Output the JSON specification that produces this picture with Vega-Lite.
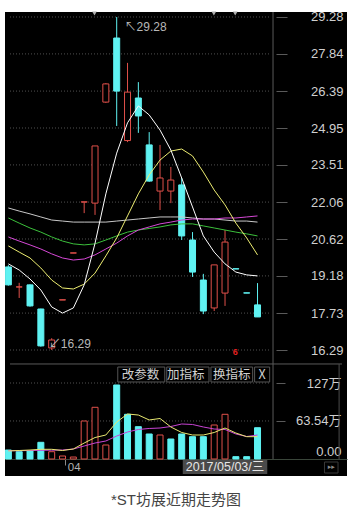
{
"$schema": "https://vega.github.io/schema/vega-lite/v6.json",
"width": 342, "height": 464,
"autosize": {"type": "none"},
"padding": {"left": 5, "top": 12, "right": 5, "bottom": 37},
"background": "#ffffff",
"config": {"view": {"fill": "#000000", "stroke": null}, "axis": {"grid": false, "labelFont": "Liberation Sans, Noto Sans CJK SC"}, "text": {"font": "Liberation Sans, Noto Sans CJK SC"}},
"title": {"text": "*ST坊展近期走势图", "orient": "bottom", "anchor": "middle", "baseline": "top", "offset": 17, "fontSize": 15, "fontWeight": "normal", "font": "Liberation Sans, Noto Sans CJK SC", "color": "#444444"},
"datasets": {
"candles": [
{"i":1,"o":19.53,"c":18.83,"h":19.60,"l":18.80,"dir":"down","vdir":"down","vol":15.0},
{"i":2,"o":18.75,"c":18.75,"h":18.91,"l":18.32,"dir":"up","vdir":"down","vol":12.2},
{"i":3,"o":18.83,"c":18.01,"h":18.85,"l":17.98,"dir":"down","vdir":"down","vol":13.4},
{"i":4,"o":17.89,"c":16.45,"h":17.90,"l":16.42,"dir":"down","vdir":"down","vol":27.9},
{"i":5,"o":16.37,"c":16.68,"h":16.75,"l":16.29,"dir":"up","vdir":"up","vol":12.2},
{"i":6,"o":18.24,"c":18.25,"h":18.25,"l":18.24,"dir":"up","vdir":"up","vol":5.0},
{"i":7,"o":20.07,"c":20.08,"h":20.08,"l":20.07,"dir":"up","vdir":"up","vol":3.3},
{"i":8,"o":22.06,"c":22.07,"h":22.07,"l":21.63,"dir":"up","vdir":"up","vol":63.5},
{"i":9,"o":22.02,"c":24.25,"h":24.25,"l":21.56,"dir":"up","vdir":"up","vol":86.4},
{"i":10,"o":25.96,"c":26.67,"h":26.70,"l":25.93,"dir":"up","vdir":"up","vol":23.4},
{"i":11,"o":28.46,"c":26.39,"h":29.28,"l":25.03,"dir":"down","vdir":"down","vol":123.7},
{"i":12,"o":24.46,"c":26.35,"h":27.49,"l":24.40,"dir":"up","vdir":"down","vol":74.7},
{"i":13,"o":26.12,"c":25.42,"h":26.74,"l":24.76,"dir":"down","vdir":"down","vol":54.0},
{"i":14,"o":24.29,"c":22.88,"h":24.79,"l":22.85,"dir":"down","vdir":"down","vol":41.8},
{"i":15,"o":22.49,"c":23.00,"h":24.29,"l":21.75,"dir":"up","vdir":"up","vol":40.1},
{"i":16,"o":22.49,"c":22.92,"h":23.43,"l":22.02,"dir":"up","vdir":"down","vol":33.4},
{"i":17,"o":22.73,"c":20.74,"h":23.00,"l":20.58,"dir":"down","vdir":"down","vol":41.8},
{"i":18,"o":20.58,"c":19.33,"h":20.89,"l":19.14,"dir":"down","vdir":"down","vol":37.3},
{"i":19,"o":19.02,"c":17.81,"h":19.26,"l":17.69,"dir":"down","vdir":"down","vol":37.3},
{"i":20,"o":17.93,"c":19.61,"h":19.61,"l":17.81,"dir":"up","vdir":"up","vol":56.8},
{"i":21,"o":18.51,"c":20.50,"h":20.97,"l":18.01,"dir":"up","vdir":"up","vol":74.7},
{"i":22,"o":19.46,"c":19.45,"h":19.46,"l":19.45,"dir":"down","vdir":"down","vol":3.9},
{"i":23,"o":18.52,"c":18.51,"h":18.52,"l":18.51,"dir":"down","vdir":"down","vol":3.9},
{"i":24,"o":18.05,"c":17.58,"h":18.90,"l":17.58,"dir":"down","vdir":"down","vol":52.3}
],
"ma": [
{"i":1,"ma5":19.65,"ma10":20.35,"ma20":20.70,"ma30":21.44,"ma60":21.83,"vma5":13.4,"vma10":13.9},
{"i":2,"ma5":19.41,"ma10":20.11,"ma20":20.54,"ma30":21.24,"ma60":21.71,"vma5":14.2,"vma10":13.9},
{"i":3,"ma5":19.06,"ma10":19.88,"ma20":20.39,"ma30":21.05,"ma60":21.60,"vma5":15.0,"vma10":14.2},
{"i":4,"ma5":18.63,"ma10":19.49,"ma20":20.23,"ma30":20.89,"ma60":21.48,"vma5":16.2,"vma10":14.5},
{"i":5,"ma5":17.97,"ma10":19.02,"ma20":20.04,"ma30":20.70,"ma60":21.36,"vma5":16.2,"vma10":14.7},
{"i":6,"ma5":17.73,"ma10":18.71,"ma20":19.88,"ma30":20.54,"ma60":21.32,"vma5":14.2,"vma10":15.0},
{"i":7,"ma5":17.93,"ma10":18.67,"ma20":19.80,"ma30":20.43,"ma60":21.28,"vma5":16.7,"vma10":16.7},
{"i":8,"ma5":18.83,"ma10":18.86,"ma20":19.84,"ma30":20.39,"ma60":21.28,"vma5":26.7,"vma10":21.7},
{"i":9,"ma5":20.45,"ma10":19.29,"ma20":20.00,"ma30":20.43,"ma60":21.28,"vma5":35.9,"vma10":26.7},
{"i":10,"ma5":22.38,"ma10":19.96,"ma20":20.23,"ma30":20.58,"ma60":21.28,"vma5":40.1,"vma10":30.1},
{"i":11,"ma5":23.97,"ma10":20.66,"ma20":20.46,"ma30":20.74,"ma60":21.32,"vma5":61.8,"vma10":38.4},
{"i":12,"ma5":25.15,"ma10":21.52,"ma20":20.74,"ma30":20.89,"ma60":21.36,"vma5":75.2,"vma10":45.1},
{"i":13,"ma5":25.81,"ma10":22.38,"ma20":20.97,"ma30":20.97,"ma60":21.40,"vma5":73.5,"vma10":49.3},
{"i":14,"ma5":25.46,"ma10":23.12,"ma20":21.09,"ma30":21.03,"ma60":21.44,"vma5":65.2,"vma10":51.0},
{"i":15,"ma5":24.87,"ma10":23.70,"ma20":21.21,"ma30":21.09,"ma60":21.48,"vma5":67.7,"vma10":51.8},
{"i":16,"ma5":24.09,"ma10":24.05,"ma20":21.28,"ma30":21.17,"ma60":21.48,"vma5":53.5,"vma10":54.3},
{"i":17,"ma5":23.00,"ma10":24.13,"ma20":21.36,"ma30":21.21,"ma60":21.48,"vma5":44.3,"vma10":58.5},
{"i":18,"ma5":21.87,"ma10":23.86,"ma20":21.40,"ma30":21.21,"ma60":21.44,"vma5":40.1,"vma10":57.7},
{"i":19,"ma5":20.74,"ma10":23.23,"ma20":21.40,"ma30":21.13,"ma60":21.40,"vma5":40.1,"vma10":53.5},
{"i":20,"ma5":20.11,"ma10":22.53,"ma20":21.40,"ma30":21.05,"ma60":21.40,"vma5":44.3,"vma10":50.1},
{"i":21,"ma5":19.65,"ma10":21.95,"ma20":21.44,"ma30":20.97,"ma60":21.36,"vma5":51.8,"vma10":49.3},
{"i":22,"ma5":19.33,"ma10":21.24,"ma20":21.44,"ma30":20.89,"ma60":21.32,"vma5":43.4,"vma10":41.8},
{"i":23,"ma5":19.22,"ma10":20.66,"ma20":21.48,"ma30":20.82,"ma60":21.32,"vma5":37.3,"vma10":37.6},
{"i":24,"ma5":19.18,"ma10":20.00,"ma20":21.52,"ma30":20.74,"ma60":21.28,"vma5":37.3,"vma10":40.1}
],
"pgrid": [{"p":29.28},{"p":27.84},{"p":26.39},{"p":24.95},{"p":23.51},{"p":22.06},{"p":20.62},{"p":19.18},{"p":17.73},{"p":16.29}],
"vgrid": [{"v":127},{"v":63.54}],
"one": [{"k":1}]
},
"resolve": {"scale": {"y": "independent", "color": "independent", "stroke": "independent", "fill": "independent"}, "axis": {"x": "independent", "y": "independent"}},
"layer": [
{"data": {"name": "pgrid"}, "mark": {"type": "rule", "color": "#505050", "strokeDash": [1, 2], "strokeWidth": 1},
 "encoding": {
  "x": {"datum": 1.1523, "type": "quantitative", "scale": {"domain": [1.1523, 31.797], "nice": false, "zero": false}, "axis": null},
  "x2": {"datum": 25.17},
  "y": {"field": "p", "type": "quantitative", "scale": {"domain": [11.375, 29.475], "nice": false, "zero": false},
   "axis": {"orient": "right", "offset": -71, "values": [29.28, 27.84, 26.39, 24.95, 23.51, 22.06, 20.62, 19.18, 17.73, 16.29], "format": ".2f", "title": null, "domain": false, "ticks": true, "tickSize": 11, "tickColor": "#5a5a5a", "labelAlign": "right", "labelBaseline": "middle", "labelPadding": 56, "labelColor": "#cfcfcf", "labelFontSize": 13, "labelOverlap": false, "labelFlush": false, "grid": false}}
 }},
{"data": {"name": "candles"}, "mark": {"type": "rule", "strokeWidth": 1, "clip": true},
 "encoding": {
  "x": {"field": "i", "type": "quantitative", "scale": {"domain": [1.1523, 31.797], "nice": false, "zero": false}, "axis": null},
  "y": {"field": "l", "type": "quantitative", "scale": {"domain": [11.375, 29.475], "nice": false, "zero": false}, "axis": null},
  "y2": {"field": "h"},
  "color": {"field": "dir", "type": "nominal", "scale": {"domain": ["up", "down"], "range": ["#e0504a", "#5ff2f2"]}, "legend": null}
 }},
{"data": {"name": "candles"}, "mark": {"type": "bar", "orient": "vertical", "size": 6, "strokeWidth": 1, "clip": true},
 "encoding": {
  "x": {"field": "i", "type": "quantitative", "scale": {"domain": [1.1523, 31.797], "nice": false, "zero": false}, "axis": null},
  "y": {"field": "o", "type": "quantitative", "scale": {"domain": [11.375, 29.475], "nice": false, "zero": false}, "axis": null},
  "y2": {"field": "c"},
  "stroke": {"field": "dir", "type": "nominal", "scale": {"domain": ["up", "down"], "range": ["#e0504a", "#5ff2f2"]}, "legend": null},
  "fill": {"field": "dir", "type": "nominal", "scale": {"domain": ["up", "down"], "range": ["#000000", "#5ff2f2"]}, "legend": null}
 }},
{"data": {"name": "ma"}, "transform": [{"fold": ["ma60", "ma30", "ma20", "ma10", "ma5"], "as": ["m", "v"]}],
 "mark": {"type": "line", "strokeWidth": 1, "clip": true},
 "encoding": {
  "x": {"field": "i", "type": "quantitative", "scale": {"domain": [1.1523, 31.797], "nice": false, "zero": false}, "axis": null},
  "y": {"field": "v", "type": "quantitative", "scale": {"domain": [11.375, 29.475], "nice": false, "zero": false}, "axis": null},
  "color": {"field": "m", "type": "nominal", "scale": {"domain": ["ma60", "ma30", "ma20", "ma10", "ma5"], "range": ["#c8c8c8", "#3cc03c", "#d648d6", "#eeee72", "#ffffff"]}, "legend": null},
  "order": {"field": "i"}
 }},
{"data": {"values": [{"i": 11.73, "p": 28.89, "t": "↖29.28"}, {"i": 4.74, "p": 16.52, "t": "↙16.29"}]},
 "mark": {"type": "text", "align": "left", "baseline": "middle", "fontSize": 12, "color": "#b8b8b8"},
 "encoding": {
  "x": {"field": "i", "type": "quantitative", "scale": {"domain": [1.1523, 31.797], "nice": false, "zero": false}, "axis": null},
  "y": {"field": "p", "type": "quantitative", "scale": {"domain": [11.375, 29.475], "nice": false, "zero": false}, "axis": null},
  "text": {"field": "t"}
 }},
{"data": {"values": [{"i": 21.94, "p": 16.2, "t": "6"}]},
 "mark": {"type": "text", "align": "center", "baseline": "middle", "fontSize": 9, "fontWeight": "bold", "color": "#e02020"},
 "encoding": {
  "x": {"field": "i", "type": "quantitative", "scale": {"domain": [1.1523, 31.797], "nice": false, "zero": false}, "axis": null},
  "y": {"field": "p", "type": "quantitative", "scale": {"domain": [11.375, 29.475], "nice": false, "zero": false}, "axis": null},
  "text": {"field": "t"}
 }},
{"data": {"values": [{"i": 8.95, "p": 29.42}, {"i": 19.97, "p": 29.42}, {"i": 21.94, "p": 29.42}]},
 "mark": {"type": "point", "shape": "triangle-down", "size": 22, "filled": true, "color": "#b0b0b0", "opacity": 1},
 "encoding": {
  "x": {"field": "i", "type": "quantitative", "scale": {"domain": [1.1523, 31.797], "nice": false, "zero": false}, "axis": null},
  "y": {"field": "p", "type": "quantitative", "scale": {"domain": [11.375, 29.475], "nice": false, "zero": false}, "axis": null}
 }},
{"data": {"name": "vgrid"}, "mark": {"type": "rule", "color": "#505050", "strokeDash": [1, 2], "strokeWidth": 1},
 "encoding": {
  "x": {"datum": 1.1523, "type": "quantitative", "scale": {"domain": [1.1523, 31.797], "nice": false, "zero": false}, "axis": null},
  "x2": {"datum": 25.17},
  "y": {"field": "v", "type": "quantitative", "scale": {"domain": [-28.41, 747], "nice": false, "zero": false},
   "axis": {"orient": "right", "offset": -71, "values": [127, 63.54, 0], "labelExpr": "datum.value == 0 ? '0.00' : (datum.value == 127 ? '127万' : '63.54万')", "title": null, "domain": false, "ticks": true, "tickSize": 9, "tickColor": "#5a5a5a", "tickOpacity": {"condition": {"test": "datum.value == 0", "value": 0}, "value": 1}, "labelAlign": "right", "labelBaseline": {"condition": {"test": "datum.value == 0", "value": "bottom"}, "value": "middle"}, "labelPadding": 56, "labelColor": "#cfcfcf", "labelFontSize": 13, "labelOverlap": false, "labelFlush": false, "grid": false}}
 }},
{"data": {"name": "candles"}, "mark": {"type": "bar", "orient": "vertical", "size": 6, "strokeWidth": 1, "clip": true},
 "encoding": {
  "x": {"field": "i", "type": "quantitative", "scale": {"domain": [1.1523, 31.797], "nice": false, "zero": false},
   "axis": {"orient": "bottom", "offset": -17, "values": [6.26], "labelExpr": "'04'", "title": null, "domain": true, "domainColor": "#3a463a", "ticks": true, "tickSize": 6, "tickColor": "#8a8a8a", "labelAlign": "left", "labelBaseline": "middle", "labelPadding": 2, "labelOffset": 2, "labelColor": "#b0b0b0", "labelFontSize": 11.5, "labelFlush": false, "grid": false}},
  "y": {"field": "vol", "type": "quantitative", "scale": {"domain": [-28.41, 747], "nice": false, "zero": false}, "axis": null},
  "y2": {"datum": 0},
  "stroke": {"field": "vdir", "type": "nominal", "scale": {"domain": ["up", "down"], "range": ["#e0504a", "#5ff2f2"]}, "legend": null},
  "fill": {"field": "vdir", "type": "nominal", "scale": {"domain": ["up", "down"], "range": ["#000000", "#5ff2f2"]}, "legend": null}
 }},
{"data": {"name": "ma"}, "transform": [{"fold": ["vma10", "vma5"], "as": ["m", "v"]}],
 "mark": {"type": "line", "strokeWidth": 1, "clip": true},
 "encoding": {
  "x": {"field": "i", "type": "quantitative", "scale": {"domain": [1.1523, 31.797], "nice": false, "zero": false}, "axis": null},
  "y": {"field": "v", "type": "quantitative", "scale": {"domain": [-28.41, 747], "nice": false, "zero": false}, "axis": null},
  "color": {"field": "m", "type": "nominal", "scale": {"domain": ["vma10", "vma5"], "range": ["#c844d4", "#e8e870"]}, "legend": null},
  "order": {"field": "i"}
 }},
{"data": {"name": "one"}, "mark": {"type": "rule", "color": "#5a5a5a", "strokeWidth": 1}, "encoding": {
  "x": {"datum": 1.1523, "type": "quantitative", "scale": {"domain": [1.1523, 31.797], "nice": false, "zero": false}, "axis": null},
  "x2": {"datum": 31.797},
  "y": {"datum": 158.8, "type": "quantitative", "scale": {"domain": [-28.41, 747], "nice": false, "zero": false}, "axis": null}
 }},
{"data": {"name": "one"}, "mark": {"type": "rule", "color": "#5a5a5a", "strokeWidth": 1}, "encoding": {
  "x": {"datum": 25.43, "type": "quantitative", "scale": {"domain": [1.1523, 31.797], "nice": false, "zero": false}, "axis": null},
  "y": {"datum": 747, "type": "quantitative", "scale": {"domain": [-28.41, 747], "nice": false, "zero": false}, "axis": null},
  "y2": {"datum": 0}
 }},
{"data": {"name": "one"}, "mark": {"type": "rule", "color": "#4a4a4a", "strokeWidth": 1}, "encoding": {
  "x": {"datum": 31.53, "type": "quantitative", "scale": {"domain": [1.1523, 31.797], "nice": false, "zero": false}, "axis": null},
  "y": {"datum": 158.8, "type": "quantitative", "scale": {"domain": [-28.41, 747], "nice": false, "zero": false}, "axis": null},
  "y2": {"datum": 0}
 }},
{"data": {"values": [{"a": 11.10, "b": 15.44}, {"a": 15.62, "b": 19.52}, {"a": 19.70, "b": 23.55}, {"a": 23.73, "b": 25.12}]},
 "mark": {"type": "rect", "fill": "#000000", "stroke": "#555555", "strokeWidth": 1},
 "encoding": {
  "x": {"field": "a", "type": "quantitative", "scale": {"domain": [1.1523, 31.797], "nice": false, "zero": false}, "axis": null},
  "x2": {"field": "b"},
  "y": {"datum": 153.7, "type": "quantitative", "scale": {"domain": [-28.41, 747], "nice": false, "zero": false}, "axis": null},
  "y2": {"datum": 128.7}
 }},
{"data": {"values": [{"i": 13.20, "t": "改参数"}, {"i": 17.37, "t": "加指标"}, {"i": 21.63, "t": "换指标"}, {"i": 24.41, "t": "X"}]},
 "mark": {"type": "text", "align": "center", "baseline": "middle", "fontSize": 12.5, "color": "#d0d0d0", "font": "Noto Sans CJK SC"},
 "encoding": {
  "x": {"field": "i", "type": "quantitative", "scale": {"domain": [1.1523, 31.797], "nice": false, "zero": false}, "axis": null},
  "y": {"datum": 140.4, "type": "quantitative", "scale": {"domain": [-28.41, 747], "nice": false, "zero": false}, "axis": null},
  "text": {"field": "t"}
 }},
{"data": {"name": "one"}, "mark": {"type": "rect", "fill": "#4a4a4a"}, "encoding": {
  "x": {"datum": 17.10, "type": "quantitative", "scale": {"domain": [1.1523, 31.797], "nice": false, "zero": false}, "axis": null},
  "x2": {"datum": 24.90},
  "y": {"datum": -1.67, "type": "quantitative", "scale": {"domain": [-28.41, 747], "nice": false, "zero": false}, "axis": null},
  "y2": {"datum": -25.07}
 }},
{"data": {"values": [{"i": 21.0, "v": -13.4, "t": "2017/05/03/三"}]},
 "mark": {"type": "text", "align": "center", "baseline": "middle", "fontSize": 12.5, "color": "#e6e6e6"},
 "encoding": {
  "x": {"field": "i", "type": "quantitative", "scale": {"domain": [1.1523, 31.797], "nice": false, "zero": false}, "axis": null},
  "y": {"field": "v", "type": "quantitative", "scale": {"domain": [-28.41, 747], "nice": false, "zero": false}, "axis": null},
  "text": {"field": "t"}
 }},
{"data": {"name": "one"}, "mark": {"type": "rect", "fill": "#000000", "stroke": "#3a3a3a", "strokeWidth": 1}, "encoding": {
  "x": {"datum": 30.18, "type": "quantitative", "scale": {"domain": [1.1523, 31.797], "nice": false, "zero": false}, "axis": null},
  "x2": {"datum": 31.43},
  "y": {"datum": -5.0, "type": "quantitative", "scale": {"domain": [-28.41, 747], "nice": false, "zero": false}, "axis": null},
  "y2": {"datum": -23.4}
 }},
{"data": {"values": [{"i": 30.80, "v": -14.2, "t": "▸▸"}]},
 "mark": {"type": "text", "align": "center", "baseline": "middle", "fontSize": 7, "color": "#8a8a8a", "font": "DejaVu Sans"},
 "encoding": {
  "x": {"field": "i", "type": "quantitative", "scale": {"domain": [1.1523, 31.797], "nice": false, "zero": false}, "axis": null},
  "y": {"field": "v", "type": "quantitative", "scale": {"domain": [-28.41, 747], "nice": false, "zero": false}, "axis": null},
  "text": {"field": "t"}
 }}
]
}
